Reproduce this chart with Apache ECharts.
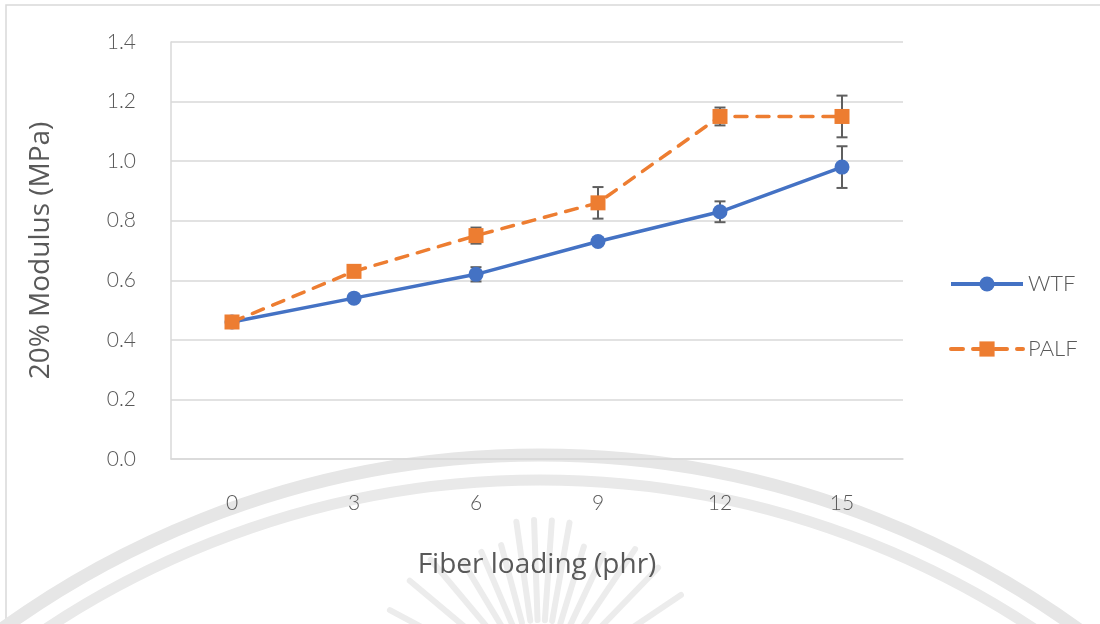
<!DOCTYPE html>
<html>
<head>
<meta charset="utf-8">
<script src="https://cdn.jsdelivr.net/npm/echarts@6/dist/echarts.min.js"></script>
<style>
  html, body { margin: 0; padding: 0; background: #ffffff; }
  #chart { width: 1100px; height: 624px; }
</style>
</head>
<body>
<div id="chart"></div>
<script>
// Fiber loading levels (phr)
const categories = ['0', '3', '6', '9', '12', '15'];

// 20% modulus (MPa) for each fiber type
const wtfValues  = [0.46, 0.54, 0.62, 0.73, 0.83, 0.98];
const palfValues = [0.46, 0.63, 0.75, 0.86, 1.15, 1.15];

// Standard deviations drawn as error bars
const wtfErrors  = [0, 0, 0.024, 0.01, 0.035, 0.07];
const palfErrors = [0, 0, 0.027, 0.053, 0.03, 0.07];

const seriesNames = ['WTF', 'PALF'];
const textColor = '#595959';
const gridColor = '#d9d9d9';
const tickFont = 'Lato, "Open Sans", "Noto Sans", sans-serif';
const titleFont = '"Open Sans", "Noto Sans", sans-serif';

function errorData(values, errors) {
  return values.map((v, i) => [i, v - errors[i], v + errors[i]]);
}

function renderErrorBar(params, api) {
  const low = api.coord([api.value(0), api.value(1)]);
  const high = api.coord([api.value(0), api.value(2)]);
  if (Math.abs(high[1] - low[1]) < 0.5) return null;
  const half = 5.5;
  const style = { stroke: '#5f5f5f', lineWidth: 2, fill: null };
  return {
    type: 'group',
    children: [
      { type: 'line', shape: { x1: high[0], y1: high[1], x2: low[0], y2: low[1] }, style },
      { type: 'line', shape: { x1: high[0] - half, y1: high[1], x2: high[0] + half, y2: high[1] }, style },
      { type: 'line', shape: { x1: low[0] - half, y1: low[1], x2: low[0] + half, y2: low[1] }, style }
    ]
  };
}

// Faint seal-like arcs and rays behind the plot
const sealCx = 540, sealCy = 1373;
const sealGraphics = [
  { type: 'circle', shape: { cx: sealCx, cy: sealCy, r: 918 },
    style: { fill: null, stroke: '#e6e6e6', lineWidth: 13 }, z: -10, silent: true },
  { type: 'circle', shape: { cx: sealCx, cy: sealCy, r: 893 },
    style: { fill: null, stroke: '#e9e9e9', lineWidth: 11 }, z: -10, silent: true }
];
const rayAngles = [-62, -50, -40, -31, -23, -15, -8, -2, 4, 10, 17, 25, 34, 44, 56];
rayAngles.forEach((a) => {
  const rad = (a - 90) * Math.PI / 180;
  const ox = 540, oy = 690;
  const r1 = 70, r2 = 150 + (a % 2 === 0 ? 20 : 0);
  sealGraphics.push({
    type: 'line',
    shape: {
      x1: ox + r1 * Math.cos(rad), y1: oy + r1 * Math.sin(rad),
      x2: ox + r2 * Math.cos(rad), y2: oy + r2 * Math.sin(rad)
    },
    style: { stroke: '#ececec', lineWidth: 6, lineCap: 'round' },
    z: -10, silent: true
  });
});

const chart = echarts.init(document.getElementById('chart'), null, { renderer: 'canvas' });

chart.setOption({
  animation: false,
  backgroundColor: '#ffffff',
  graphic: [
    { type: 'rect', shape: { x: 6, y: 5, width: 1200, height: 700 },
      style: { fill: null, stroke: '#d9d9d9', lineWidth: 1.5 }, z: -20, silent: true }
  ].concat(sealGraphics),
  grid: { left: 171, right: 197, top: 42, bottom: 165, containLabel: false },
  legend: {
    data: seriesNames,
    orient: 'vertical',
    left: 944,
    top: 268,
    itemWidth: 72,
    itemHeight: 19,
    itemGap: 43,
    lineStyle: { width: 4 },
    textStyle: { color: textColor, fontSize: 22, fontFamily: tickFont, fontWeight: 300 }
  },
  xAxis: {
    type: 'category',
    data: categories,
    boundaryGap: true,
    axisLine: { show: true, lineStyle: { color: gridColor, width: 1.5 } },
    axisTick: { show: false },
    axisLabel: { color: textColor, fontSize: 21, fontFamily: tickFont, fontWeight: 300, margin: 34 },
    name: 'Fiber loading (phr)',
    nameLocation: 'middle',
    nameGap: 92,
    nameTextStyle: { color: textColor, fontSize: 28, fontFamily: titleFont }
  },
  yAxis: {
    type: 'value',
    min: 0,
    max: 1.4,
    interval: 0.2,
    axisLine: { show: true, lineStyle: { color: gridColor, width: 1.5 } },
    axisTick: { show: false },
    splitLine: { show: true, lineStyle: { color: gridColor, width: 1.5 } },
    axisLabel: {
      color: textColor, fontSize: 21, fontFamily: tickFont, fontWeight: 300, margin: 35,
      formatter: (v) => v.toFixed(1)
    },
    name: '20% Modulus (MPa)',
    nameLocation: 'middle',
    nameGap: 116,
    nameRotate: 90,
    nameTextStyle: { color: textColor, fontSize: 28, fontFamily: titleFont }
  },
  series: [
    {
      type: 'custom',
      name: 'WTF error',
      renderItem: renderErrorBar,
      data: errorData(wtfValues, wtfErrors),
      encode: { x: 0, y: [1, 2] },
      z: 1,
      silent: true
    },
    {
      type: 'custom',
      name: 'PALF error',
      renderItem: renderErrorBar,
      data: errorData(palfValues, palfErrors),
      encode: { x: 0, y: [1, 2] },
      z: 1,
      silent: true
    },
    {
      name: seriesNames[0],
      type: 'line',
      data: wtfValues,
      symbol: 'circle',
      symbolSize: 15,
      itemStyle: { color: '#4472C4' },
      lineStyle: { color: '#4472C4', width: 3.5 },
      z: 3
    },
    {
      name: seriesNames[1],
      type: 'line',
      data: palfValues,
      symbol: 'rect',
      symbolSize: 15,
      itemStyle: { color: '#ED7D31' },
      lineStyle: { color: '#ED7D31', width: 3.5, type: [12, 10], cap: 'round' },
      z: 4
    }
  ]
});
</script>
</body>
</html>
